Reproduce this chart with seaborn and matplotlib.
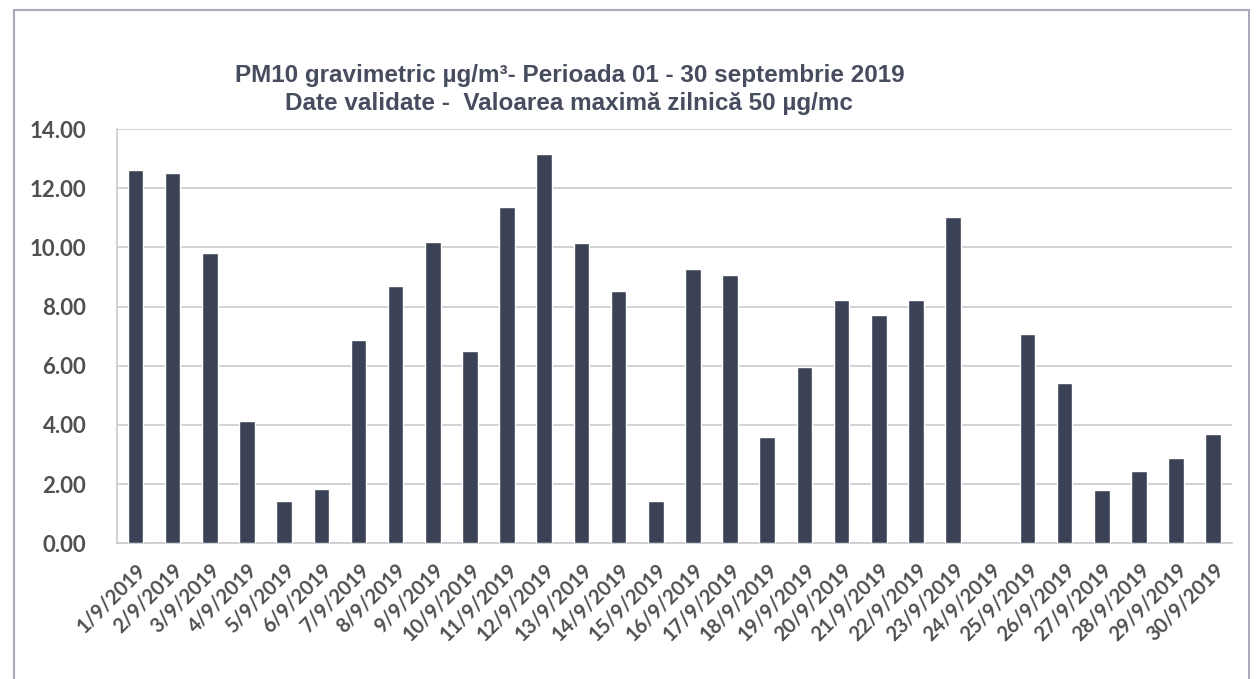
import pandas as pd
import matplotlib.pyplot as plt
import numpy as np
import seaborn as sns
from matplotlib.patches import Rectangle

# daily PM10 values, 1-30 Sept 2019 (24/9 has no data)
days = [f"{d}/9/2019" for d in range(1, 31)]
pm10 = [12.60, 12.52, 9.80, 4.14, 1.42, 1.84, 6.88, 8.70, 10.17, 6.50,
        11.35, 13.17, 10.16, 8.52, 1.43, 9.27, 9.05, 3.59, 5.97, 8.23,
        7.71, 8.23, 11.01, np.nan, 7.07, 5.43, 1.80, 2.44, 2.87, 3.70]
y_ticks = [0, 2, 4, 6, 8, 10, 12, 14]

TITLE_1 = "PM10 gravimetric µg/m³- Perioada 01 - 30 septembrie 2019"
TITLE_2 = "Date validate -  Valoarea maximă zilnică 50 µg/mc"

BAR_COLOR = "#3c4255"
GRID_COLOR = "#c9c9cf"

df = pd.DataFrame({"Data": days, "PM10": pm10})

sns.set_style("white")
plt.rcParams['font.family'] = ['Lato', 'DejaVu Sans']

fig = plt.figure(figsize=(12.57, 6.79), dpi=100)
ax = fig.add_axes([0.093, 0.200, 0.887, 0.610])

sns.barplot(data=df, x="Data", y="PM10", color=BAR_COLOR, width=0.42,
            saturation=1, ax=ax, zorder=3)

ax.set_ylim(0, 14)
ax.set_xlim(-0.5, len(days) - 0.5)
ax.set_yticks(y_ticks)
ax.set_yticklabels([f"{v:.2f}" for v in y_ticks], fontsize=16,
                   fontweight="bold", color="#505050")
ax.yaxis.grid(True, color=GRID_COLOR, linewidth=1.2, zorder=0)
ax.tick_params(axis="y", length=6, color=GRID_COLOR, pad=16)

# category labels rotated, ticks between categories (excel style)
ax.set_xticks(range(len(days)))
ax.set_xticklabels(days, rotation=45, ha="right", rotation_mode="anchor",
                   fontsize=14.5, fontweight="bold", color="#505050")
ax.tick_params(axis="x", which="major", length=0, pad=12)
ax.set_xticks(np.arange(-0.5, len(days), 1.0), minor=True)
ax.tick_params(axis="x", which="minor", length=6, color=GRID_COLOR)

ax.set_xlabel("")
ax.set_ylabel("")
for side in ["top", "right"]:
    ax.spines[side].set_visible(False)
ax.spines["left"].set_color(GRID_COLOR)
ax.spines["bottom"].set_color(GRID_COLOR)
ax.spines["left"].set_linewidth(1.2)
ax.spines["bottom"].set_linewidth(1.2)

fig.text(0.453, 0.889, TITLE_1, ha="center", va="center", fontsize=17.5,
         fontweight="bold", color="#474d5e", family=["Liberation Sans", "DejaVu Sans"])
fig.text(0.453, 0.847, TITLE_2, ha="center", va="center", fontsize=17.5,
         fontweight="bold", color="#474d5e", family=["Liberation Sans", "DejaVu Sans"])

# outer chart frame
fig.patches.append(Rectangle((0.011, -0.02), 0.983, 1.005, transform=fig.transFigure,
                             fill=False, edgecolor="#a9a9bd", linewidth=1.5))

fig.savefig("out.png", dpi=100, facecolor="white")
